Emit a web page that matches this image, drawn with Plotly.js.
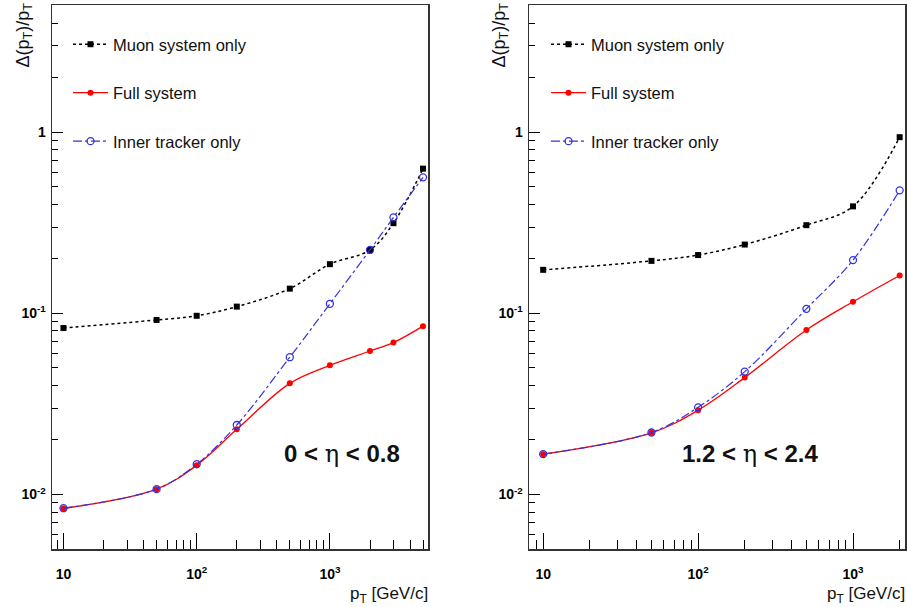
<!DOCTYPE html>
<html>
<head>
<meta charset="utf-8">
<script src="https://cdn.plot.ly/plotly-3.0.1.min.js"></script>
<style>html,body{margin:0;padding:0;background:#fff;}#chart{width:907px;height:607px;}</style>
</head>
<body>
<div id="chart"></div>
<script>
// ---- data ----
const ptLeft = [10, 50, 100, 200, 500, 1000, 2000, 3000, 5000];
const muonLeft = [0.083, 0.092, 0.097, 0.109, 0.137, 0.187, 0.224, 0.315, 0.63];
const fullLeft = [0.00837, 0.0107, 0.0145, 0.0229, 0.0411, 0.0517, 0.062, 0.069, 0.085];
const innerLeft = [0.0084, 0.0107, 0.0147, 0.0242, 0.0573, 0.113, 0.224, 0.339, 0.564];

const ptRight = [10, 50, 100, 200, 500, 1000, 2000];
const muonRight = [0.174, 0.195, 0.210, 0.240, 0.307, 0.39, 0.94];
const fullRight = [0.0167, 0.0219, 0.0292, 0.0442, 0.081, 0.116, 0.162];
const innerRight = [0.0167, 0.022, 0.0303, 0.0477, 0.106, 0.197, 0.478];

const seriesNames = ["Muon system only", "Full system", "Inner tracker only"];
const xTickVals = [10, 100, 1000];
const xTickText = ["10", "10<sup>2</sup>", "10<sup>3</sup>"];
const yTickVals = [0.01, 0.1, 1];
const yTickText = ["10<sup>-2</sup>", "10<sup>-1</sup>", "1"];
const ETA = '<span style="font-family:DejaVu Serif;font-weight:normal">η</span>';
const regionLabels = ["0 < " + ETA + " < 0.8", "1.2 < " + ETA + " < 2.4"];

// minor tick positions (2..9 per decade)
function minors(lo, hi) {
  const out = [];
  for (let e = lo; e <= hi; e++) for (let m = 2; m <= 9; m++) out.push(m * Math.pow(10, e));
  return out;
}

const FONT = "Liberation Sans, Arial, sans-serif";
const styles = [
  {line: {color: "#000", dash: "dot", width: 1.5, shape: "spline"}, marker: {symbol: "square", size: 6, color: "#000"}},
  {line: {color: "#ff0000", dash: "solid", width: 1.3, shape: "spline"}, marker: {symbol: "circle", size: 6, color: "#ff0000"}},
  {line: {color: "#3333dd", dash: "dashdot", width: 1.2, shape: "spline"}, marker: {symbol: "circle-open", size: 7, color: "#3333dd", line: {width: 1.3}}}
];

function mk(x, y, i, xa, ya, leg) {
  return Object.assign({
    x: x, y: y, type: "scatter", mode: "lines+markers", name: seriesNames[i],
    xaxis: xa, yaxis: ya, legend: leg, legendgroup: leg + i
  }, JSON.parse(JSON.stringify(styles[i])));
}

const data = [
  mk(ptLeft, muonLeft, 0, "x", "y", "legend"),
  mk(ptLeft, fullLeft, 1, "x", "y", "legend"),
  mk(ptLeft, innerLeft, 2, "x", "y", "legend"),
  mk(ptRight, muonRight, 0, "x2", "y2", "legend2"),
  mk(ptRight, fullRight, 1, "x2", "y2", "legend2"),
  mk(ptRight, innerRight, 2, "x2", "y2", "legend2")
];

function xaxis(domain, range, anchor) {
  return {
    type: "log", domain: domain, range: range, anchor: anchor,
    showgrid: false, zeroline: false, showline: true, mirror: true,
    linecolor: "#333", linewidth: 1.5,
    ticks: "inside", ticklen: 16, tickwidth: 1, tickcolor: "#000",
    tickmode: "array", tickvals: xTickVals, ticktext: xTickText,
    tickfont: {family: FONT, size: 14, color: "#000", weight: "bold"},
    ticklabelstandoff: 12,
    minor: {tickmode: "array", tickvals: minors(0, 3), ticks: "inside", ticklen: 9, tickcolor: "#000", tickwidth: 1, showgrid: false}
  };
}
function yaxis(domain, anchor) {
  return {
    type: "log", domain: domain, range: [-2.301, 0.703], anchor: anchor,
    showgrid: false, zeroline: false, showline: true, mirror: true,
    linecolor: "#333", linewidth: 1.5,
    ticks: "inside", ticklen: 11, tickwidth: 1, tickcolor: "#000",
    tickmode: "array", tickvals: yTickVals, ticktext: yTickText,
    tickfont: {family: FONT, size: 14, color: "#000", weight: "bold"},
    ticklabelstandoff: 2,
    minor: {tickmode: "array", tickvals: minors(-3, 0), ticks: "inside", ticklen: 6, tickcolor: "#000", tickwidth: 1, showgrid: false}
  };
}

const W = 907, H = 607;
const yDom = [1 - 549 / H, 1 - 5 / H];
function legendCfg(xpx) {
  return {
    x: xpx / W, y: 1 - 27 / H, xanchor: "left", yanchor: "top",
    bgcolor: "rgba(0,0,0,0)", borderwidth: 0,
    font: {family: FONT, size: 16.5, color: "#111"},
    tracegroupgap: 24, itemwidth: 35
  };
}

const layout = {
  width: W, height: H,
  margin: {l: 0, r: 0, t: 0, b: 0},
  paper_bgcolor: "#fff", plot_bgcolor: "#fff",
  font: {family: FONT},
  xaxis: xaxis([52 / W, 428 / W], [Math.log10(8.2), Math.log10(5450)], "y"),
  yaxis: yaxis(yDom, "x"),
  xaxis2: xaxis([529 / W, 905 / W], [Math.log10(8.1), Math.log10(2165)], "y2"),
  yaxis2: yaxis(yDom, "x2"),
  legend: legendCfg(68),
  legend2: legendCfg(546),
  annotations: [
    {text: regionLabels[0], xref: "paper", yref: "paper", x: 342 / W, y: 1 - 470 / H, showarrow: false,
     font: {family: FONT, size: 24, color: "#111", weight: "bold"}},
    {text: regionLabels[1], xref: "paper", yref: "paper", x: 820 / W, y: 1 - 470 / H, showarrow: false,
     font: {family: FONT, size: 24, color: "#111", weight: "bold"}},
    {text: "Δ(p<sub>T</sub>)/p<sub>T</sub>", xref: "paper", yref: "paper", x: 24 / W, y: 1 - 1 / H,
     xanchor: "center", yanchor: "top", textangle: -90, showarrow: false,
     font: {family: FONT, size: 18, color: "#111"}},
    {text: "Δ(p<sub>T</sub>)/p<sub>T</sub>", xref: "paper", yref: "paper", x: 500 / W, y: 1 - 1 / H,
     xanchor: "center", yanchor: "top", textangle: -90, showarrow: false,
     font: {family: FONT, size: 18, color: "#111"}},
    {text: "p<sub>T</sub> [GeV/c]", xref: "paper", yref: "paper", x: 430 / W, y: 1 - 595 / H,
     xanchor: "right", yanchor: "middle", showarrow: false,
     font: {family: FONT, size: 17, color: "#111"}},
    {text: "p<sub>T</sub> [GeV/c]", xref: "paper", yref: "paper", x: 907 / W, y: 1 - 595 / H,
     xanchor: "right", yanchor: "middle", showarrow: false,
     font: {family: FONT, size: 17, color: "#111"}}
  ]
};

Plotly.newPlot("chart", data, layout, {staticPlot: true, displayModeBar: false});
</script>
</body>
</html>
